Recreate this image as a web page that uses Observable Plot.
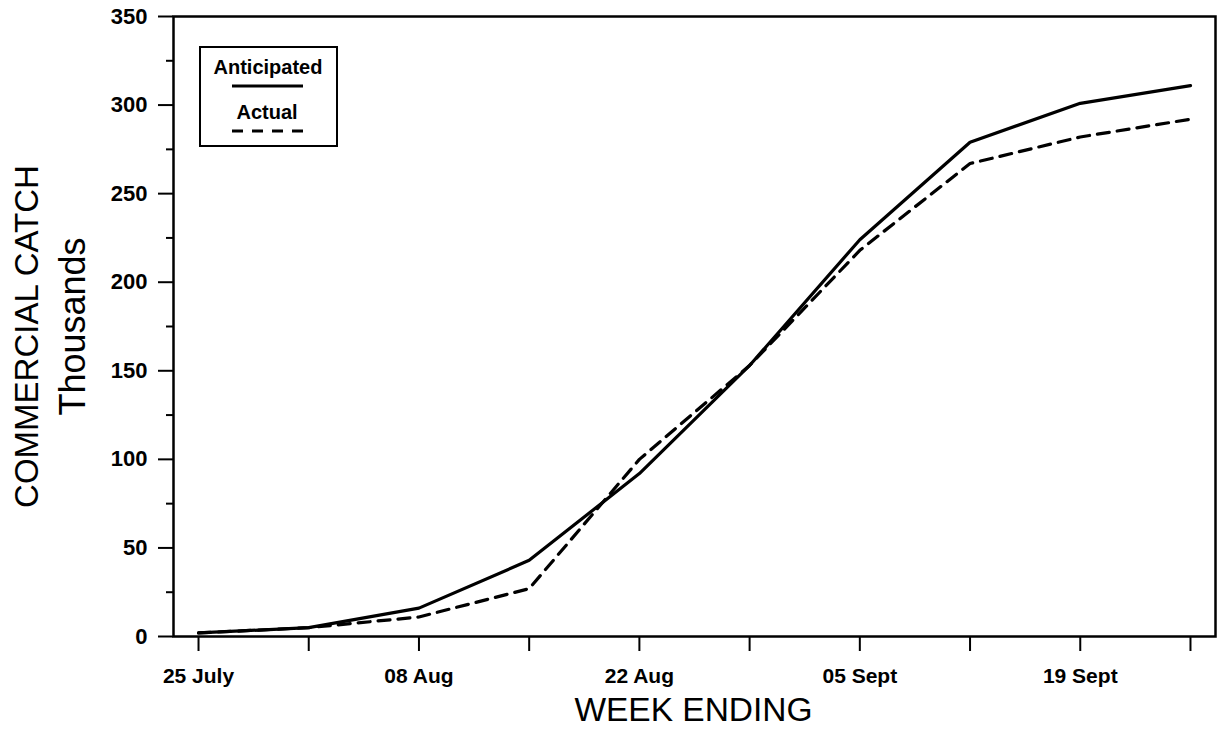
<!DOCTYPE html>
<html><head><meta charset="utf-8">
<script src="https://cdn.jsdelivr.net/npm/d3@7"></script>
<script src="https://cdn.jsdelivr.net/npm/@observablehq/plot@0.6"></script>
<style>
body{margin:0;background:#fff;}
#wrap{position:relative;width:1217px;height:731px;}
#legend{position:absolute;left:199px;top:46px;}
</style></head><body><div id="wrap"></div>
<script>
const weekEnding = ["25 July","01 Aug","08 Aug","15 Aug","22 Aug","29 Aug","05 Sept","12 Sept","19 Sept","26 Sept"];
const labeledWeeks = ["25 July","08 Aug","22 Aug","05 Sept","19 Sept"];
const anticipated = [2,5,16,43,92,153,224,279,301,311];
const actual = [2,5,11,27,100,153,218,267,282,292];
const yMajorTicks = [0,50,100,150,200,250,300,350];
const yMinorTicks = [25,75,125,175,225,275,325];
const seriesNames = ["Anticipated","Actual"];

const font = "'Liberation Sans', Arial, Helvetica, sans-serif";
const rows = [];
weekEnding.forEach((w, i) => {
  rows.push({week: i, label: w, series: seriesNames[0], value: anticipated[i]});
  rows.push({week: i, label: w, series: seriesNames[1], value: actual[i]});
});
const weekIdx = weekEnding.map((w, i) => i);

const chart = Plot.plot({
  width: 1217, height: 731,
  marginLeft: 173, marginRight: 2, marginTop: 16, marginBottom: 95,
  style: {fontFamily: font, background: "#fff", color: "#000", overflow: "visible"},
  x: {type: "linear", domain: [-0.227, 9.227]},
  y: {domain: [0, 350]},
  marks: [
    Plot.axisY({ticks: yMajorTicks, tickSize: 15, tickPadding: 11, label: null,
      fontSize: 22, fontWeight: "bold", strokeWidth: 2}),
    Plot.axisY({ticks: yMinorTicks, tickSize: 7, tickFormat: () => "", label: null, strokeWidth: 2}),
    Plot.axisX({ticks: weekIdx, tickSize: 15, tickPadding: 17, label: null,
      fontSize: 21, fontWeight: "bold", strokeWidth: 2,
      tickFormat: (i) => labeledWeeks.includes(weekEnding[i]) ? weekEnding[i] : ""}),
    Plot.line(rows.filter(d => d.series === seriesNames[0]), {x: "week", y: "value", stroke: "#000", strokeWidth: 3.2}),
    Plot.line(rows.filter(d => d.series === seriesNames[1]), {x: "week", y: "value", stroke: "#000", strokeWidth: 3.2, strokeDasharray: "12,8"}),
    Plot.frame({stroke: "#000", strokeWidth: 2.5}),
    Plot.text(["COMMERCIAL CATCH"], {frameAnchor: "left", rotate: -90, dx: -146, dy: 10, fontSize: 33, fontWeight: "normal", textAnchor: "middle"}),
    Plot.text(["Thousands"], {frameAnchor: "left", rotate: -90, dx: -100, dy: 0, fontSize: 36, fontWeight: "normal", textAnchor: "middle"}),
    Plot.text(["WEEK ENDING"], {frameAnchor: "bottom", dy: 84, dx: -1, fontSize: 33.5, fontWeight: "normal", textAnchor: "middle"})
  ]
});
const wrap = document.getElementById("wrap");
wrap.appendChild(chart);

// legend overlay
const ns = "http://www.w3.org/2000/svg";
const lg = document.createElementNS(ns, "svg");
lg.setAttribute("id", "legend");
lg.setAttribute("width", 139);
lg.setAttribute("height", 101);
lg.style.fontFamily = font;
lg.innerHTML = `
  <rect x="1" y="1" width="137" height="99" fill="#fff" stroke="#000" stroke-width="2"/>
  <text x="69" y="28" text-anchor="middle" font-size="20" font-weight="bold">${seriesNames[0]}</text>
  <line x1="33" x2="104" y1="40" y2="40" stroke="#000" stroke-width="3"/>
  <text x="68" y="73" text-anchor="middle" font-size="20" font-weight="bold">${seriesNames[1]}</text>
  <line x1="33" x2="104" y1="85" y2="85" stroke="#000" stroke-width="3" stroke-dasharray="11,9"/>
`;
wrap.appendChild(lg);
</script>
</body></html>
